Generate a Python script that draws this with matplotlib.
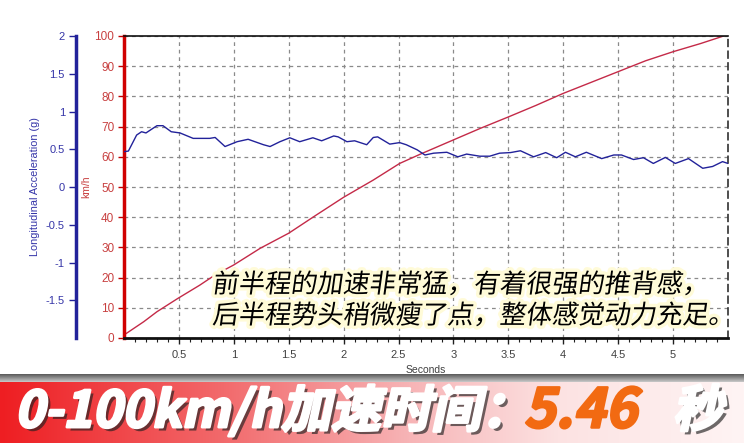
import numpy as np
import matplotlib
matplotlib.use("Agg")
import matplotlib.pyplot as plt
import matplotlib.patheffects as pe
from matplotlib.transforms import Affine2D
from matplotlib.colors import LinearSegmentedColormap

# speed trace (km/h)
speed_t = [0, 0.18, 0.3, 0.49, 0.69, 0.83, 1.0, 1.24, 1.5, 1.75, 2.0, 2.27, 2.51,
           2.70, 3.0, 3.25, 3.5, 3.75, 4.0, 4.25, 4.5, 4.75, 5.0, 5.25, 5.46]
speed_kmh = [1.0, 5.4, 8.7, 13.1, 17.5, 20.9, 24.2, 29.7, 34.7, 40.7, 46.6, 52.3, 57.8,
             60.9, 65.6, 69.5, 73.2, 77.0, 81.0, 84.6, 88.2, 91.8, 94.8, 97.5, 100.0]

# longitudinal acceleration (g)
acc_t = [0, 0.04, 0.115, 0.16, 0.2, 0.3, 0.355, 0.43, 0.51, 0.63, 0.78, 0.83, 0.92, 1.03,
         1.13, 1.27, 1.33, 1.42, 1.51, 1.60, 1.72, 1.80, 1.91, 1.95, 2.03, 2.10, 2.21, 2.27,
         2.31, 2.42, 2.51, 2.57, 2.67, 2.74, 2.82, 2.94, 3.04, 3.12, 3.24, 3.33, 3.42, 3.52,
         3.61, 3.73, 3.84, 3.94, 4.02, 4.11, 4.21, 4.35, 4.46, 4.53, 4.64, 4.73, 4.82, 4.93,
         5.02, 5.14, 5.27, 5.36, 5.45, 5.50]
acc_g = [0.468, 0.476, 0.688, 0.732, 0.716, 0.812, 0.812, 0.732, 0.716, 0.644, 0.644, 0.656,
         0.536, 0.600, 0.632, 0.560, 0.536, 0.600, 0.652, 0.600, 0.652, 0.612, 0.676, 0.664,
         0.600, 0.612, 0.560, 0.656, 0.664, 0.568, 0.588, 0.560, 0.492, 0.424, 0.448, 0.460,
         0.400, 0.436, 0.408, 0.408, 0.448, 0.456, 0.480, 0.400, 0.456, 0.388, 0.460, 0.400,
         0.460, 0.376, 0.424, 0.424, 0.364, 0.388, 0.312, 0.392, 0.312, 0.376, 0.248, 0.272,
         0.336, 0.312]

x_ticks = [0.5, 1, 1.5, 2, 2.5, 3, 3.5, 4, 4.5, 5]
x_labels = ["0.5", "1", "1.5", "2", "2.5", "3", "3.5", "4", "4.5", "5"]
g_ticks = [-1.5, -1, -0.5, 0, 0.5, 1, 1.5, 2]
g_labels = ["-1.5", "-1", "-0.5", "0", "0.5", "1", "1.5", "2"]

note_lines = ["前半程的加速非常猛，有着很强的推背感，", "后半程势头稍微瘦了点，整体感觉动力充足。"]
banner_txt = "0-100km/h加速时间："
banner_val = "5.46"
banner_unit = "秒"

W, H = 744, 443
RED = "#c42a48"
BLUE = "#22229a"
CJK = ["Noto Sans CJK SC", "DejaVu Sans"]
plt.rcParams["font.family"] = ["Liberation Sans", "DejaVu Sans"]


class Slant(pe.AbstractPathEffect):
    """draw the inner effects with an x-skew around display height y0 (fake italic)"""
    def __init__(self, effects, y0, ang=12):
        super().__init__()
        self.effects = effects
        self.y0 = y0
        self.ang = ang

    def draw_path(self, renderer, gc, tpath, affine, rgbFace=None):
        sk = Affine2D().translate(0, -self.y0).skew_deg(self.ang, 0).translate(0, self.y0)
        for e in self.effects:
            e.draw_path(renderer, gc, tpath, affine + sk, rgbFace)


fig = plt.figure(figsize=(W / 100, H / 100), dpi=100)
fig.patch.set_facecolor("white")

l, r, t, b = 124, 728, 36, 338
ax = fig.add_axes([l / W, 1 - b / H, (r - l) / W, (b - t) / H])
ax.set_xlim(0, 5.5)
ax.set_ylim(0, 100)
ax.plot(speed_t, speed_kmh, color=RED, lw=1.0)

ax.set_xticks(x_ticks)
ax.set_xticklabels(x_labels)
ax.set_xticks(np.arange(0.1, 5.5, 0.1), minor=True)
ax.set_yticks(np.arange(0, 101, 10))
ax.tick_params(axis="x", which="major", length=4, width=1, colors="#202020",
               labelsize=8, labelcolor="#404040", pad=5)
ax.tick_params(axis="x", which="minor", length=3, width=0.8, colors="#202020")
ax.tick_params(axis="y", length=4, width=1, colors="#c00000", labelsize=8.5,
               labelcolor="#c84040", pad=3)
ax.grid(True, which="major", color="#8a8a8a", linestyle=(0, (3, 3)), linewidth=0.9)
ax.set_xlabel("Seconds", fontsize=7.5, color="#404040", labelpad=3)
ax.set_ylabel("km/h", fontsize=7.5, color="#c84040", labelpad=2)

ax.spines["left"].set_color("#d00000")
ax.spines["left"].set_linewidth(2.5)
ax.spines["bottom"].set_color("#101010")
ax.spines["bottom"].set_linewidth(2)
ax.spines["top"].set_color("#101010")
ax.spines["top"].set_linewidth(1.2)
ax.spines["right"].set_color("#303030")
ax.spines["right"].set_linestyle((0, (4, 3)))
ax.spines["right"].set_linewidth(1.2)

ax2 = ax.twinx()
ax2.set_ylim(-2, 2)
ax2.plot(acc_t, acc_g, color=BLUE, lw=1.0)
ax2.yaxis.set_ticks_position("left")
ax2.yaxis.set_label_position("left")
ax2.spines["left"].set_position(("outward", 48 * 0.72))
ax2.spines["left"].set_color(BLUE)
ax2.spines["left"].set_linewidth(2.5)
for s in ["right", "top", "bottom"]:
    ax2.spines[s].set_visible(False)
ax2.set_yticks(g_ticks)
ax2.set_yticklabels(g_labels)
ax2.tick_params(axis="y", length=5, width=1, colors=BLUE, labelsize=8,
                labelcolor="#3535a8", pad=3)
ax2.set_ylabel("Longitudinal Acceleration (g)", fontsize=7.8, color="#3535a8", labelpad=4)

# comment text with a pale yellow halo
halo = [pe.withStroke(linewidth=5, foreground="#fffbd8")]
for line, yc in zip(note_lines, [285, 316]):
    fig.text(213 / W, 1 - yc / H, line, family=CJK, fontsize=18.8, color="black",
             ha="left", va="center",
             path_effects=[Slant(halo, H - yc, ang=8)])

# bottom banner
grad_ax = fig.add_axes([0, 0, 1, 61 / H])
cmap = LinearSegmentedColormap.from_list(
    "band", [(0, "#ee1e22"), (0.3, "#f26a6c"), (0.55, "#f7b4b6"),
             (0.75, "#fce2e2"), (1, "#fff4f4")])
grad_ax.imshow(np.linspace(0, 1, 256)[None, :], cmap=cmap, aspect="auto",
               extent=[0, 1, 0, 1])
grad_ax.set_axis_off()

edge_ax = fig.add_axes([0, 61 / H, 1, 8 / H])
edge_ax.imshow(np.linspace(0, 1, 32)[:, None], cmap=LinearSegmentedColormap.from_list(
    "edge", ["#c8c8c8", "#5a5a5a"]), aspect="auto", extent=[0, 1, 0, 1], origin="lower")
edge_ax.set_axis_off()

yc = 412
shadow = pe.SimplePatchShadow(offset=(2.5, -2.5), shadow_rgbFace="#202020", alpha=0.65)
white_fx = [shadow, pe.Stroke(linewidth=2, foreground="white"), pe.Normal()]
orange_fx = [pe.Stroke(linewidth=1.8, foreground="#f26a12"), pe.Normal()]
fig.text(18 / W, 1 - yc / H, banner_txt, family=CJK, fontsize=36, weight="bold",
         color="white", ha="left", va="center",
         path_effects=[Slant(white_fx, H - yc, ang=12)])
fig.text(527 / W, 1 - yc / H, banner_val, family=CJK, fontsize=39, weight="bold",
         color="#f26a12", ha="left", va="center",
         path_effects=[Slant(orange_fx, H - yc, ang=12)])
fig.text(676 / W, 1 - yc / H, banner_unit, family=CJK, fontsize=36, weight="bold",
         color="white", ha="left", va="center",
         path_effects=[Slant(white_fx, H - yc, ang=12)])

fig.savefig("out.png", dpi=100)
